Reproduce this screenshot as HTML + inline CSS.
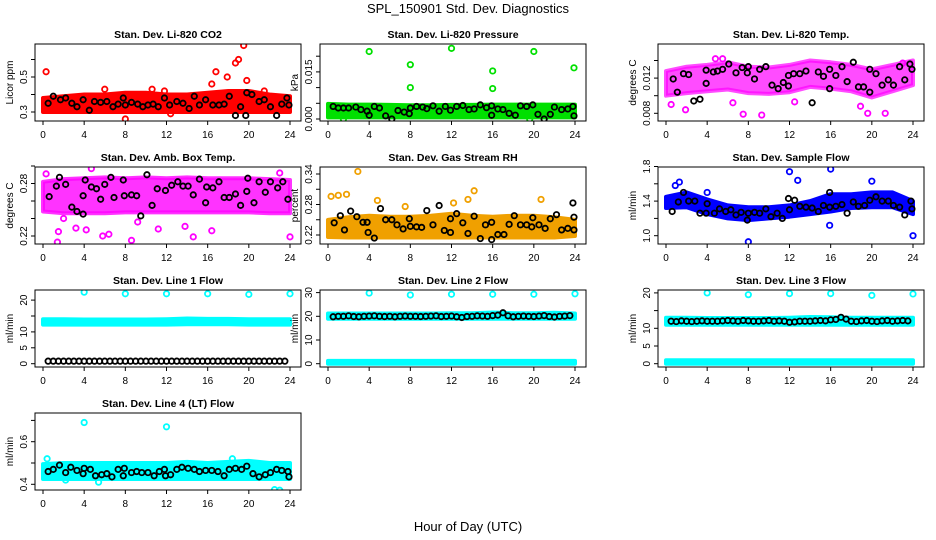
<!DOCTYPE html>
<html><head><meta charset="utf-8">
<style>
html,body{margin:0;padding:0;background:#fff;}
svg{display:block;font-family:"Liberation Sans",sans-serif;}
</style></head>
<body>
<svg id="chart" width="936" height="540" viewBox="0 0 936 540">
<text x="468" y="13" text-anchor="middle" font-size="13">SPL_150901  Std. Dev. Diagnostics</text>
<text x="468" y="531" text-anchor="middle" font-size="13">Hour of Day (UTC)</text>
</svg>
<script>
// ---- data ----
const bandHours = [0,2,4,6,8,10,12,14,16,18,20,22,24];
const xTicks = [0,4,8,12,16,20,24];

const co2Lo = [0.30,0.30,0.30,0.30,0.30,0.30,0.30,0.30,0.30,0.30,0.30,0.30,0.30];
const co2Hi = [0.38,0.39,0.40,0.40,0.41,0.41,0.40,0.40,0.41,0.42,0.42,0.40,0.39];
const co2Black = [[0.5,0.35],[1,0.39],[1.7,0.37],[2.2,0.38],[2.8,0.35],[3.3,0.33],[3.9,0.37],[4.5,0.31],[5,0.36],[5.6,0.355],[6.2,0.36],[6.8,0.33],[7.3,0.345],[7.8,0.38],[8,0.34],[8.6,0.355],[9.2,0.345],[9.7,0.33],[10.2,0.34],[10.7,0.345],[11.2,0.33],[11.8,0.38],[12.3,0.34],[13,0.36],[13.6,0.35],[14.2,0.32],[14.7,0.39],[15.2,0.34],[15.8,0.37],[16.5,0.34],[17.1,0.34],[17.6,0.345],[18.1,0.39],[18.7,0.28],[19.2,0.33],[19.7,0.28],[19.8,0.41],[20.3,0.40],[21,0.36],[21.5,0.37],[22.1,0.33],[22.7,0.28],[23.2,0.345],[23.7,0.38],[23.9,0.34]];
const co2Out = [[0.3,0.53],[6,0.43],[10.6,0.43],[11.8,0.42],[16.8,0.53],[17.9,0.50],[18.7,0.58],[19,0.60],[19.5,0.68],[19.8,0.48],[8,0.26],[12.4,0.29],[21.5,0.42],[16.4,0.46]];

const presLo = [0.0005,0.0005,0.0005,0.0005,0.0005,0.0005,0.0005,0.0005,0.0005,0.0005,0.0005,0.0005,0.0005];
const presHi = [0.0048,0.0046,0.0046,0.0045,0.0044,0.0044,0.0045,0.0045,0.0046,0.0046,0.0046,0.0046,0.0046];
const presBlack = [[0.5,0.004],[1,0.0035],[1.5,0.0035],[2,0.0035],[2.7,0.0038],[3.2,0.003],[3.8,0.0025],[4,0.0012],[4.5,0.004],[5,0.0035],[5.6,0.001],[6.2,0],[6.8,0.0027],[7.4,0.0022],[7.9,0.0017],[8,0.0035],[8.6,0.004],[9.2,0.0038],[9.6,0.0033],[10.2,0.0042],[10.8,0.0025],[11.4,0.004],[11.9,0.0028],[12.5,0.004],[13.1,0.0043],[13.7,0.003],[14.2,0.0032],[14.8,0.0045],[15.4,0.0036],[15.9,0.0042],[15.9,0.0012],[16.5,0.0032],[17,0.003],[17.6,0.0018],[18.2,0.0012],[18.7,0.0042],[19.3,0.004],[19.9,0.0045],[20.4,0.0015],[21,0],[21.6,0.0015],[22,0.0038],[22.7,0.003],[23.3,0.0032],[23.8,0.004],[23.9,0.001]];
const presOut = [[4,0.0215],[12,0.0225],[20,0.0215],[8,0.0173],[16,0.0153],[23.9,0.0163],[8,0.010],[16,0.0097],[1.5,0.0],[19.6,0.0]];

const tempLo = [0.0100,0.0103,0.0105,0.0107,0.0103,0.0102,0.0104,0.0110,0.0108,0.0105,0.0098,0.0105,0.0112];
const tempHi = [0.0128,0.0133,0.0135,0.0138,0.0133,0.0132,0.0135,0.0140,0.0138,0.0135,0.0130,0.0135,0.0140];
const tempBlack = [[0.7,0.0119],[1.1,0.0104],[1.7,0.0125],[2.2,0.0124],[2.7,0.0094],[3.3,0.0096],[3.9,0.0129],[3.9,0.0114],[4.6,0.0127],[5,0.0128],[5.5,0.0130],[6.1,0.0136],[6.8,0.0126],[7.4,0.0132],[7.9,0.0126],[8,0.0133],[8.6,0.0119],[9.1,0.0130],[9.7,0.0133],[10.3,0.0112],[10.9,0.0108],[11.4,0.0115],[11.9,0.0123],[11.9,0.0111],[12.4,0.0125],[13,0.0125],[13.6,0.0128],[14.2,0.0092],[14.8,0.0127],[15.3,0.0122],[15.9,0.0130],[15.9,0.0108],[16.5,0.0123],[17.1,0.0133],[17.6,0.0116],[18.2,0.0138],[18.7,0.0110],[19.2,0.0110],[19.8,0.0130],[19.8,0.0104],[20.4,0.0125],[21,0.0112],[21.6,0.0118],[22.1,0.0112],[22.7,0.0133],[23.2,0.0118],[23.7,0.0136],[23.9,0.0130]];
const tempOut = [[4.8,0.0142],[5.5,0.0142],[7.5,0.0079],[9.3,0.0078],[19.6,0.0080],[21.3,0.0080],[1.9,0.0084],[23,0.0137],[0.5,0.0090],[6.5,0.0092],[12.5,0.0093],[18.9,0.0088]];

const ambLo = [0.248,0.246,0.246,0.246,0.247,0.247,0.247,0.247,0.247,0.247,0.247,0.246,0.246];
const ambHi = [0.282,0.285,0.286,0.287,0.286,0.287,0.286,0.287,0.286,0.286,0.286,0.285,0.284];
const ambBlack = [[0.6,0.265],[1.3,0.277],[1.6,0.287],[2.2,0.279],[2.8,0.253],[3.3,0.248],[3.9,0.266],[3.9,0.245],[4.1,0.284],[4.7,0.276],[5.2,0.274],[5.6,0.262],[6,0.279],[6.6,0.287],[6.9,0.264],[7.8,0.284],[7.9,0.266],[8.6,0.267],[9.1,0.266],[9.5,0.243],[10.1,0.290],[10.6,0.255],[11.1,0.274],[11.9,0.272],[12.5,0.278],[13.1,0.282],[13.6,0.277],[14.1,0.277],[14.6,0.267],[15.2,0.285],[15.8,0.258],[15.9,0.276],[16.5,0.275],[17.1,0.282],[17.6,0.264],[18.1,0.264],[18.7,0.268],[19.2,0.255],[19.8,0.271],[19.9,0.286],[20.5,0.258],[21,0.282],[21.6,0.270],[22.1,0.282],[22.8,0.275],[23.3,0.282],[23.8,0.262],[23.9,0.304]];
const ambOut = [[1.4,0.213],[1.5,0.225],[2,0.240],[4.2,0.227],[5.8,0.220],[6.4,0.222],[8.6,0.215],[11.2,0.228],[13.8,0.231],[14.6,0.219],[16.4,0.226],[24,0.219],[6.2,0.307],[22.6,0.305],[4.7,0.297],[0.3,0.291],[23,0.292],[3.2,0.229],[9.2,0.236]];

const rhLo = [0.216,0.215,0.215,0.215,0.215,0.215,0.215,0.215,0.215,0.215,0.215,0.215,0.218];
const rhHi = [0.250,0.255,0.258,0.256,0.256,0.258,0.262,0.258,0.256,0.258,0.258,0.255,0.250];
const rhBlack = [[0.6,0.244],[1.2,0.258],[1.6,0.230],[2.2,0.267],[2.8,0.256],[3.4,0.245],[3.8,0.245],[3.9,0.225],[4.5,0.214],[5.1,0.272],[5.6,0.250],[6.2,0.250],[6.7,0.240],[7.3,0.232],[7.9,0.252],[8,0.237],[8.6,0.236],[9.1,0.235],[9.6,0.268],[10.2,0.240],[10.8,0.278],[11.3,0.229],[11.9,0.252],[11.9,0.225],[12.5,0.262],[13.1,0.244],[13.6,0.223],[14.2,0.257],[14.8,0.213],[15.3,0.240],[15.9,0.245],[15.9,0.211],[16.5,0.221],[17.1,0.221],[17.6,0.241],[18.1,0.258],[18.7,0.240],[19.3,0.240],[19.9,0.254],[19.8,0.236],[20.5,0.240],[21.1,0.233],[21.6,0.252],[22.2,0.260],[22.7,0.230],[23.3,0.233],[23.8,0.283],[23.9,0.230],[23.9,0.255]];
const rhOut = [[2.9,0.345],[14.2,0.307],[0.3,0.296],[1,0.298],[1.8,0.300],[20.7,0.290],[13.6,0.290],[4.8,0.288],[7.5,0.276],[12.2,0.283]];

const flowLo = [1.32,1.33,1.25,1.20,1.18,1.20,1.22,1.25,1.28,1.32,1.33,1.33,1.25];
const flowHi = [1.45,1.50,1.42,1.35,1.33,1.33,1.35,1.40,1.48,1.48,1.50,1.50,1.40];
const flowBlack = [[0.6,1.28],[1.2,1.39],[1.7,1.50],[2.2,1.40],[2.8,1.40],[3.3,1.26],[3.9,1.26],[4,1.37],[4.7,1.26],[5.2,1.31],[5.8,1.28],[6.3,1.30],[6.8,1.24],[7.3,1.27],[7.9,1.18],[8,1.26],[8.6,1.27],[9.1,1.26],[9.7,1.31],[10.2,1.22],[10.8,1.26],[11.3,1.20],[11.9,1.43],[12,1.30],[12.5,1.41],[13,1.34],[13.6,1.33],[14.2,1.32],[14.8,1.28],[15.3,1.35],[15.9,1.50],[15.9,1.33],[16.5,1.34],[17.1,1.36],[17.6,1.26],[18.2,1.39],[18.7,1.34],[19.3,1.35],[19.8,1.41],[20.4,1.45],[21,1.40],[21.6,1.40],[22.1,1.35],[22.7,1.33],[23.2,1.24],[23.8,1.40],[23.9,1.31]];
const flowOut = [[8,0.93],[12,1.74],[16,1.77],[15.9,1.12],[24,1.0],[20,1.63],[1.3,1.62],[12.8,1.64],[4,1.50],[0.9,1.58]];

const l1Lo = [12.3,12.3,12.3,12.3,12.3,12.3,12.3,12.4,12.4,12.4,12.3,12.3,12.3];
const l1Hi = [14.0,14.0,13.9,13.9,13.9,13.9,14.0,14.2,14.1,14.1,14.0,14.0,14.0];
const l1Black = [0.8,0.8,0.8,0.8,0.8,0.8,0.8,0.8,0.8,0.8,0.8,0.8,0.8,0.8,0.8,0.8,0.8,0.8,0.8,0.8,0.8,0.8,0.8,0.8,0.8,0.8,0.8,0.8,0.8,0.8,0.8,0.8,0.8,0.8,0.8,0.8,0.8,0.8,0.8,0.8,0.8,0.8,0.8,0.8,0.8,0.8,0.8];
const l1Out = [[4,22.5],[8,22],[12,22],[16,22],[20,21.8],[24,22]];

const l2Lo = [19.0,19.0,19.0,19.0,19.0,19.0,19.0,19.0,19.0,19.0,19.0,19.0,19.0];
const l2Hi = [21.2,21.2,21.2,21.2,21.2,21.2,21.3,21.3,21.6,21.3,21.3,21.5,21.2];
const l2Black = [19.8,20,20,20.2,19.9,19.8,20,20.1,20.2,20,19.9,20,19.8,20,20.1,20,20,19.9,20,20.1,20.2,19.9,20,20.1,19.8,19.5,19.9,20,20.2,20.1,20,20.3,20.5,21.5,20.2,19.8,20,20.1,20,19.9,20.1,20.3,19.9,19.7,20,20.1,20.3];
const l2Out = [[4,29.8],[8,29],[12,29.3],[16,29.3],[20,29.3],[24,29.5]];
const l2BotLo = [0,0,0,0,0,0,0,0,0,0,0,0,0];
const l2BotHi = [1.2,1.2,1.2,1.2,1.2,1.2,1.2,1.2,1.2,1.2,1.2,1.2,1.2];

const l3Lo = [11.0,11.0,11.0,11.0,11.0,11.0,11.0,11.0,11.0,11.0,11.0,11.0,11.0];
const l3Hi = [13.0,13.0,12.9,12.9,12.9,12.9,13.0,13.2,13.1,13.0,13.0,13.0,13.0];
const l3Black = [12,11.9,12.1,12,11.9,12,12.1,12,12,12,12.1,12.2,12.1,12,12.2,12.1,12,12,12.1,12.2,12,12.1,12,11.7,11.8,12,12,12,12.1,12.2,12.1,12.4,12.5,13.1,12.6,12,11.9,12.1,12.2,12,11.9,12.1,12.2,12,12.1,12.2,12.1];
const l3Out = [[4,20],[8,19.5],[12,19.8],[16,19.8],[20,19.3],[24,19.7]];
const l3BotLo = [0,0,0,0,0,0,0,0,0,0,0,0,0];
const l3BotHi = [1.0,1.0,1.0,1.0,1.0,1.0,1.0,1.0,1.0,1.0,1.0,1.0,1.0];

const l4Lo = [0.425,0.425,0.425,0.425,0.425,0.425,0.425,0.425,0.425,0.425,0.425,0.425,0.425];
const l4Hi = [0.495,0.50,0.50,0.50,0.50,0.50,0.50,0.505,0.50,0.505,0.51,0.50,0.50];
const l4Black = [[0.5,0.46],[1,0.47],[1.6,0.49],[2.2,0.455],[2.7,0.48],[3.3,0.465],[3.9,0.45],[4,0.475],[4.6,0.47],[5.1,0.44],[5.7,0.445],[6.2,0.45],[6.7,0.435],[7.3,0.47],[7.8,0.44],[7.9,0.475],[8.6,0.455],[9.1,0.46],[9.6,0.455],[10.2,0.455],[10.8,0.44],[11.3,0.46],[11.8,0.47],[11.9,0.44],[12.4,0.445],[13,0.47],[13.5,0.48],[14.1,0.475],[14.7,0.47],[15.2,0.46],[15.8,0.465],[16.4,0.465],[17,0.46],[17.6,0.44],[18.1,0.47],[18.7,0.475],[19.3,0.47],[19.8,0.485],[20.4,0.45],[21,0.435],[21.6,0.445],[22.1,0.455],[22.7,0.47],[23.2,0.465],[23.8,0.46],[23.9,0.435]];
const l4Out = [[4,0.69],[12,0.67],[20,0.75],[22.5,0.375],[23,0.372],[0.4,0.52],[2.2,0.42],[5.4,0.41],[18.4,0.52]];

const halfHours = [0.5,1,1.5,2,2.5,3,3.5,4,4.5,5,5.5,6,6.5,7,7.5,8,8.5,9,9.5,10,10.5,11,11.5,12,12.5,13,13.5,14,14.5,15,15.5,16,16.5,17,17.5,18,18.5,19,19.5,20,20.5,21,21.5,22,22.5,23,23.5];
function zip(xs, ys){ return ys.map((v,i)=>[xs[i],v]); }

const colLeft = [35,320,658];
const rowTop = [44,167,290,413];
const W = 266, H = 77;

const panels = [
 {name:'co2',title:'Stan. Dev. Li-820 CO2',ylab:'Licor ppm',c:0,r:0,ref:[0.3,112,0.5,77],ticks:[0.3,0.4,0.5,0.6],labels:['0.3','','0.5',''],color:'#ff0000',lo:co2Lo,hi:co2Hi,black:co2Black,out:co2Out,op:1},
 {name:'pressure',title:'Stan. Dev. Li-820 Pressure',ylab:'kPa',c:1,r:0,ref:[0,119,0.005,103.3],ticks:[0,0.005,0.01,0.015,0.02],labels:['0.000','','','0.015',''],color:'#00e000',lo:presLo,hi:presHi,black:presBlack,out:presOut,op:1},
 {name:'li820-temp',title:'Stan. Dev. Li-820 Temp.',ylab:'degrees C',c:2,r:0,ref:[0.008,113.3,0.010,95.7],ticks:[0.008,0.010,0.012,0.014],labels:['0.008','','0.012',''],color:'#ff00ff',lo:tempLo,hi:tempHi,black:tempBlack,out:tempOut,op:0.7},
 {name:'amb-box-temp',title:'Stan. Dev. Amb. Box Temp.',ylab:'degrees C',c:0,r:1,ref:[0.22,236,0.28,183.5],ticks:[0.22,0.24,0.26,0.28,0.30],labels:['0.22','','','0.28',''],color:'#ff00ff',lo:ambLo,hi:ambHi,black:ambBlack,out:ambOut,op:0.8},
 {name:'gas-stream-rh',title:'Stan. Dev. Gas Stream RH',ylab:'percent',c:1,r:1,ref:[0.22,235,0.28,204.5],ticks:[0.22,0.25,0.28,0.31,0.34],labels:['0.22','','0.28','','0.34'],color:'#f0a000',lo:rhLo,hi:rhHi,black:rhBlack,out:rhOut,op:1},
 {name:'sample-flow',title:'Stan. Dev. Sample Flow',ylab:'ml/min',c:2,r:1,ref:[1.0,235.7,1.4,201.1],ticks:[1.0,1.2,1.4,1.6,1.8],labels:['1.0','','1.4','','1.8'],color:'#0000ff',lo:flowLo,hi:flowHi,black:flowBlack,out:flowOut,op:1},
 {name:'line1-flow',title:'Stan. Dev. Line 1 Flow',ylab:'ml/min',c:0,r:2,ref:[0,363.7,10,331.9],ticks:[0,5,10,15,20],labels:['0','5','10','','20'],color:'#00ffff',lo:l1Lo,hi:l1Hi,black:zip(halfHours,l1Black),out:l1Out,op:1},
 {name:'line2-flow',title:'Stan. Dev. Line 2 Flow',ylab:'ml/min',c:1,r:2,ref:[0,363.7,10,340],ticks:[0,10,20,30],labels:['0','10','20','30'],color:'#00ffff',lo:l2Lo,hi:l2Hi,botLo:l2BotLo,botHi:l2BotHi,black:zip(halfHours,l2Black),out:l2Out,op:1},
 {name:'line3-flow',title:'Stan. Dev. Line 3 Flow',ylab:'ml/min',c:2,r:2,ref:[0,363.7,10,328.3],ticks:[0,5,10,15,20],labels:['0','5','10','','20'],color:'#00ffff',lo:l3Lo,hi:l3Hi,botLo:l3BotLo,botHi:l3BotHi,black:zip(halfHours,l3Black),out:l3Out,op:1},
 {name:'line4-flow',title:'Stan. Dev. Line 4 (LT) Flow',ylab:'ml/min',c:0,r:3,ref:[0.4,484.3,0.6,441.7],ticks:[0.4,0.5,0.6,0.7],labels:['0.4','','0.6',''],color:'#00ffff',lo:l4Lo,hi:l4Hi,black:l4Black,out:l4Out,op:1}
];

const NS='http://www.w3.org/2000/svg';
const svg=document.getElementById('chart');
function mk(tag,attrs,parent){const e=document.createElementNS(NS,tag);for(const k in attrs)e.setAttribute(k,attrs[k]);parent.appendChild(e);return e;}

panels.forEach(p=>{
  const L=colLeft[p.c], T=rowTop[p.r];
  const g=mk('g',{},svg);
  
  
  const xs=h=>L+8+h*(247/24);
  const [v1,p1,v2,p2]=p.ref;
  const ys=v=>p1+(v-v1)*(p2-p1)/(v2-v1);
  const cp=mk('clipPath',{id:'clip-'+p.name},g);
  mk('rect',{x:L,y:T,width:W,height:H},cp);
  const plot=mk('g',{'clip-path':'url(#clip-'+p.name+')'},g);
  
  
  function band(lo,hi,nm){
    let d='M'+bandHours.map((h,i)=>xs(h).toFixed(1)+','+ys(hi[i]).toFixed(1)).join('L');
    for(let i=bandHours.length-1;i>=0;i--) d+='L'+xs(bandHours[i]).toFixed(1)+','+ys(lo[i]).toFixed(1);
    const e=mk('path',{d:d+'Z',fill:p.color,'fill-opacity':p.op,stroke:p.color,'stroke-width':4,'stroke-opacity':p.op,'stroke-linejoin':'round'},plot);
    
    
  }
  band(p.lo,p.hi,p.name+'-point-cloud');
  if(p.botLo) band(p.botLo,p.botHi,p.name+'-zero-cloud');
  p.out.forEach(pt=>{
    const e=mk('circle',{cx:xs(pt[0]),cy:ys(pt[1]),r:2.7,fill:'none',stroke:p.color,'stroke-width':1.8},plot);
    
    
  });
  p.black.forEach(pt=>{
    const e=mk('circle',{cx:xs(pt[0]),cy:ys(pt[1]),r:2.7,fill:'none',stroke:'#000','stroke-width':1.8},plot);
    
    
  });
  const box=mk('rect',{x:L,y:T,width:W,height:H,fill:'none',stroke:'#000','stroke-width':1},g);
  
  
  const t=mk('text',{x:L+W/2,y:T-6,'text-anchor':'middle','font-size':10.5,'font-weight':'bold'},g);
  t.textContent=p.title;
  
  
  xTicks.forEach(h=>{
    mk('line',{x1:xs(h),x2:xs(h),y1:T+H,y2:T+H+4,stroke:'#000'},g);
    const tl=mk('text',{x:xs(h),y:T+H+17,'text-anchor':'middle','font-size':10},g);
    tl.textContent=h;
    
    
  });
  p.ticks.forEach((v,i)=>{
    const y=ys(v);
    mk('line',{x1:L-4,x2:L,y1:y,y2:y,stroke:'#000'},g);
    if(p.labels[i]){
      const tl=mk('text',{x:L-8,y:y,'text-anchor':'middle','font-size':10,transform:'rotate(-90 '+(L-8)+' '+y+')'},g);
      tl.textContent=p.labels[i];
      
      
    }
  });
  const yl=mk('text',{x:L-22,y:T+H/2,'text-anchor':'middle','font-size':10,transform:'rotate(-90 '+(L-22)+' '+(T+H/2)+')'},g);
  yl.textContent=p.ylab;
  
  
});
</script>
</body></html>
